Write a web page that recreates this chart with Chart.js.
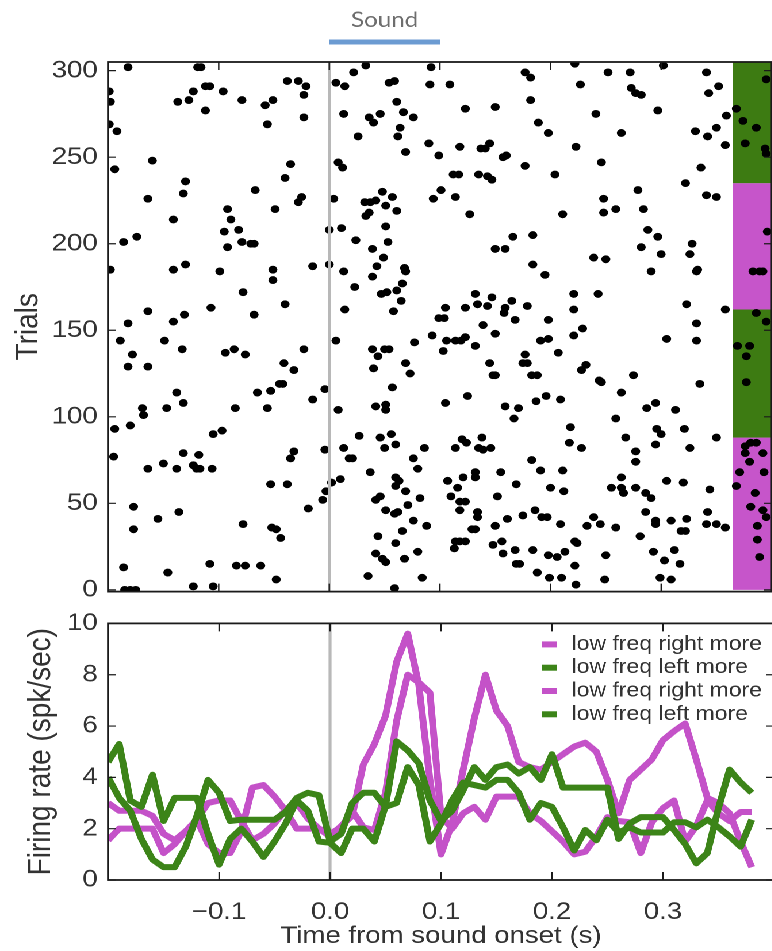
<!DOCTYPE html>
<html>
<head>
<meta charset="utf-8">
<script src="https://cdn.jsdelivr.net/npm/chart.js@4.4.1/dist/chart.umd.min.js"></script>
<style>
  html, body { margin: 0; padding: 0; background: #fff; overflow: hidden; width: 772px; height: 951px; }
  /* the source figure is stretched sideways, so the whole page is too */
  #stretch { position: absolute; left: 0; top: 0; width: 675px; height: 951px; transform: scaleX(1.15); transform-origin: 0 0; }
  #rasterBox { position: absolute; left: 0; top: 0; }
  #rateBox { position: absolute; left: 0; top: 600px; }
</style>
</head>
<body>
<div id="stretch">
  <div id="rasterBox"><canvas id="raster" width="675" height="615"></canvas></div>
  <div id="rateBox"><canvas id="rate" width="675" height="351"></canvas></div>
</div>
<script>
/* -------------------- DATA -------------------- */
// raster: one dot per spike (time from sound onset in s, trial number)
const spikeTimes = [
  -0.182,-0.119,-0.116,-0.112,-0.108,-0.123,-0.127,-0.137,-0.096,-0.079,
  -0.112,-0.058,-0.051,-0.038,-0.028,-0.021,-0.023,-0.023,-0.056,-0.198,
  -0.199,-0.199,-0.192,0.006,0.014,0.022,0.033,0.054,0.059,0.061,
  0.067,0.076,0.064,0.062,0.069,0.013,0.036,0.040,0.046,0.026,
  -0.160,-0.194,-0.130,-0.132,-0.164,-0.141,-0.174,-0.186,-0.092,-0.089,
  -0.095,-0.082,-0.079,-0.071,-0.068,-0.092,-0.067,-0.035,-0.040,-0.025,
  -0.028,-0.049,0.004,0.008,0.012,0.011,0.000,0.000,-0.015,-0.051,
  -0.051,-0.078,-0.040,-0.068,-0.107,-0.099,-0.130,-0.141,-0.198,-0.164,
  -0.141,-0.131,-0.182,0.032,0.037,0.042,0.048,0.051,0.057,0.061,
  0.033,0.036,0.051,0.053,0.024,0.039,0.049,0.043,0.068,0.069,
  0.039,0.013,
  0.023,0.047,0.052,0.061,0.066,0.065,0.058,0.014,0.006,-0.023,
  0.039,0.044,0.050,0.054,0.069,0.073,0.040,0.057,0.077,0.093,
  0.103,0.106,0.114,0.119,0.123,0.132,0.099,0.104,0.105,0.123,
  0.132,0.134,0.143,0.147,0.139,0.150,0.159,0.158,0.165,0.168,
  0.179,0.198,0.191,0.198,0.221,0.221,0.243,0.221,0.229,0.207,
  0.177,0.175,0.179,0.145,0.148,0.150,0.183,0.188,0.228,0.232,
  0.244,0.246,0.275,0.264,0.323,0.332,0.332,0.305,0.335,0.358,
  -0.015,-0.004,0.008,0.042,0.051,0.051,0.105,0.125,0.159,0.171,
  0.167,0.187,0.196,0.209,0.259,0.287,0.295,0.313,0.296,0.300,
  0.321,0.295,0.326,0.350,0.268,0.277,0.277,0.218,0.217,0.228,
  0.027,0.046,0.056,0.050,0.060,0.086,0.013,-0.004,0.018,0.021,
  0.076,0.080,0.037,0.114,0.120,0.124,0.138,0.135,0.139,0.146,
  0.183,0.191,0.211,0.155,0.169,0.200,0.212,0.152,0.010,0.002,
  -0.003,-0.006,-0.019,0.060,0.063,0.060,0.069,0.082,0.046,0.042,
  0.051,0.059,0.062,0.071,0.076,0.088,0.044,0.066,0.060,0.042,
  0.048,0.051,0.068,0.080,0.035,0.084,0.059,0.107,0.116,0.121,
  0.132,0.132,0.110,0.118,0.123,0.118,0.134,0.134,0.129,0.132,
  0.114,0.118,0.123,0.113,0.148,0.156,0.157,0.168,0.169,0.172,
  0.184,0.150,0.161,0.175,0.186,0.192,0.197,0.209,0.198,0.206,
  0.213,0.222,0.224,0.222,0.188,0.199,0.210,0.223,0.233,0.239,
  0.245,0.259,0.250,0.249,0.255,0.264,0.266,0.264,0.277,0.286,
  0.291,0.286,0.281,0.295,0.295,0.309,0.305,0.320,0.323,0.318,
  0.322,0.344,0.342,0.341,0.350,0.358,0.312,0.293,0.303,0.317,
  0.299,0.309,
  0.092,0.091,0.109,0.177,0.182,0.182,0.222,0.227,0.252,0.272,
  0.302,0.273,0.277,0.282,0.341,0.352,0.343,0.123,0.150,0.241,
  0.297,0.359,0.189,0.198,0.264,0.331,0.342,0.350,0.358,0.090,
  0.099,0.118,0.137,0.141,0.145,0.157,0.160,0.177,0.223,0.246,
  0.336,0.112,0.117,0.135,0.143,0.147,0.204,0.322,0.101,0.094,
  0.114,0.279,0.341,0.350,0.248,0.248,0.259,0.284,0.127,0.211,
  0.288,0.297,0.166,0.184,0.150,0.159,0.282,0.300,0.328,0.326,
  0.239,0.250,0.184,0.195,0.291,0.333,0.332,
  -0.189,-0.149,-0.133,-0.178,-0.182,-0.164,-0.094,-0.086,-0.076,-0.041,
  -0.032,-0.045,-0.042,-0.053,-0.065,-0.138,-0.147,-0.132,-0.169,-0.168,
  -0.085,-0.056,-0.194,-0.180,-0.105,-0.097,-0.195,-0.132,-0.118,-0.164,
  -0.150,-0.138,-0.123,-0.120,-0.117,-0.106,-0.032,-0.035,-0.053,-0.038,
  -0.177,-0.136,-0.155,-0.177,-0.078,-0.052,-0.048,-0.044,-0.186,-0.146,
  -0.108,-0.084,-0.076,-0.062,-0.048,-0.123,-0.105,-0.185,-0.180,-0.175,
  0.395,0.368,0.374,0.386,0.376,0.394,0.395,0.396,0.383,0.389,
  0.392,0.386,0.395,0.369,0.380,0.377,0.377,0.376,0.381,0.386,
  0.376,0.392,0.380,0.371,0.393,0.385,0.381,0.392,0.395,0.387,
  0.387,0.389,0.368
];
const spikeTrials = [
  302,302,302,291,291,288,283,282,288,283,
  277,280,283,294,294,291,286,273,269,282,
  288,269,265,293,291,299,303,293,294,282,
  276,273,267,262,253,275,273,270,275,262,
  248,243,236,229,226,214,204,201,220,214,
  207,208,201,200,200,198,231,246,238,227,
  224,220,226,247,244,209,208,188,187,185,
  179,172,165,159,163,184,188,185,185,161,
  155,159,154,224,224,225,230,222,227,219,
  216,218,210,201,202,197,192,187,186,184,
  181,184,
  175,171,172,173,177,167,161,162,144,139,
  139,135,139,139,131,125,128,117,143,147,
  138,144,144,144,146,141,157,157,163,163,
  171,165,164,169,153,148,163,160,167,156,
  164,156,144,145,171,162,171,147,151,137,
  136,131,131,131,124,124,124,124,127,130,
  121,120,124,114,165,154,144,145,119,162,
  110,116,104,106,107,104,108,112,106,105,
  99,109,112,110,99,105,108,104,93,90,
  93,84,82,88,88,80,74,94,85,82,
  89,88,90,82,84,82,82,81,76,76,
  76,70,68,82,87,85,88,82,81,82,
  75,69,69,68,61,59,57,54,64,62,
  57,52,47,65,63,60,57,53,54,52,
  46,44,45,49,40,37,31,34,27,21,
  18,16,18,22,8,7,1,63,59,65,
  65,68,54,51,51,46,45,42,35,35,
  28,28,28,24,26,28,21,23,15,15,
  23,37,41,43,46,42,42,38,20,19,
  22,28,27,14,10,7,7,3,37,42,
  38,36,20,6,59,59,56,65,59,56,
  53,45,31,40,38,40,63,62,41,34,
  34,58,45,38,38,36,23,22,17,15,
  7,6,
  302,292,292,299,296,283,304,292,299,299,
  303,290,287,286,299,291,287,278,279,275,
  277,274,270,264,264,265,262,267,257,258,
  251,256,255,255,258,250,251,245,256,247,
  244,240,240,240,239,237,240,235,231,226,
  227,231,228,227,226,218,220,220,217,217,
  208,204,204,205,197,197,198,194,200,194,
  192,191,188,182,184,185,184,
  144,144,139,136,129,129,137,139,136,131,
  127,119,119,115,114,114,105,108,105,101,
  105,105,93,95,90,92,77,79,78,70,
  73,70,72,70,70,70,80,76,61,61,
  48,45,41,35,38,36,35,30,13,10,
  15,14,14,14,6,2,2,0,0,0,
  295,278,271,267,258,255,252,207,184,184,
  184,160,155,141,141,135,120,83,85,85,
  79,79,74,68,68,56,48,46,42,37,
  29,19,60
];

// trial groups shown in the side strip (trial boundaries)
const groupEdges = [0, 88, 162, 235, 305];
const groupKinds = ['right', 'left', 'right', 'left'];
const stripStart = 0.365;
const soundOnset = 0.0;
const soundOffset = 0.1;

// PSTH bins (s) and firing rates (spk/sec)
const timeBins = [
  -0.20,-0.19,-0.18,-0.17,-0.16,-0.15,-0.14,-0.13,-0.12,-0.11,
  -0.10,-0.09,-0.08,-0.07,-0.06,-0.05,-0.04,-0.03,-0.02,-0.01,
  0.00,0.01,0.02,0.03,0.04,0.05,0.06,0.07,0.08,0.09,
  0.10,0.11,0.12,0.13,0.14,0.15,0.16,0.17,0.18,0.19,
  0.20,0.21,0.22,0.23,0.24,0.25,0.26,0.27,0.28,0.29,
  0.30,0.31,0.32,0.33,0.34,0.35,0.36,0.37,0.38
];
const rightMoreA = [
  3.0,2.7,2.7,2.7,2.5,1.8,1.55,1.9,2.35,3.0,
  3.1,3.1,2.3,1.55,1.8,2.2,2.75,3.0,2.4,2.0,
  1.7,2.1,2.5,4.5,5.3,6.4,8.5,9.6,7.6,3.9,
  1.0,2.2,4.3,6.3,8.0,6.6,6.0,4.6,4.4,4.3,
  4.6,4.9,5.2,5.35,5.0,3.9,2.6,3.9,4.3,4.7,
  5.45,5.8,6.1,4.7,3.2,3.0,2.6,1.5,0.5
];
const leftMoreA = [
  4.6,5.3,3.1,2.85,4.1,2.3,3.2,3.2,3.2,1.8,
  0.6,1.6,2.0,1.5,0.9,1.5,2.2,3.1,2.7,1.5,
  1.45,1.05,2.0,2.0,1.5,2.9,5.4,5.05,4.55,3.1,
  2.3,2.7,3.5,4.4,3.9,4.4,4.5,4.15,4.4,3.9,
  4.9,3.6,3.6,3.6,3.6,3.6,1.6,2.2,2.45,2.45,
  2.45,1.95,1.4,0.65,1.05,2.8,4.3,3.8,3.4
];
const rightMoreB = [
  1.55,2.0,2.0,2.0,2.0,1.05,1.4,1.9,2.35,1.4,
  1.05,1.05,1.9,3.6,3.7,3.25,2.7,2.0,2.0,2.0,
  1.8,2.05,2.7,2.05,1.95,3.4,6.2,8.0,7.7,7.3,
  2.5,2.0,2.6,2.85,2.35,3.25,3.25,3.25,2.6,2.3,
  1.9,1.5,1.0,1.1,1.7,2.45,2.3,2.25,1.05,2.25,
  2.8,3.1,1.5,2.1,3.1,2.6,2.3,2.65,2.65
];
const leftMoreB = [
  4.0,3.2,2.7,1.6,0.8,0.5,0.5,1.3,2.5,3.9,
  3.4,2.3,2.35,2.35,2.35,2.35,2.65,3.2,3.4,3.3,
  1.5,1.8,3.0,3.4,3.4,2.85,3.0,4.4,3.7,1.5,
  2.2,3.1,3.8,3.7,3.6,3.9,3.9,3.4,2.35,3.0,
  2.85,2.05,1.15,1.95,1.55,2.35,1.85,2.05,1.85,1.85,
  1.85,2.25,2.25,2.05,2.35,2.05,1.7,1.3,2.35
];

const trialTicks = [0, 50, 100, 150, 200, 250, 300];
const rateTicks = [0, 2, 4, 6, 8, 10];
const timeTicks = [-0.1, 0.0, 0.1, 0.2, 0.3];
const timeTickLabels = ['\u22120.1', '0.0', '0.1', '0.2', '0.3'];

/* -------------------- STYLE -------------------- */
const FONT = "'Liberation Sans', Arial, Helvetica, sans-serif";
const INK = '#333';
const MAGENTA = '#c452c8';
const GREEN = '#3c8418';
const kindColor = { right: '#c655ca', left: '#3d7b12' };

/* -------------------- HELPERS -------------------- */
function drawZeroLine(chart) {
    const { ctx, chartArea: a, scales: { x } } = chart;
    const px = x.getPixelForValue(0);
    ctx.save();
    ctx.strokeStyle = '#b8b8b8';
    ctx.lineWidth = 2.6;
    ctx.beginPath();
    ctx.moveTo(px, a.top);
    ctx.lineTo(px, a.bottom);
    ctx.stroke();
    ctx.restore();
}

// inward ticks on all four sides + box, like the old matplotlib look
function drawFrame(chart, xt, yt) {
    const { ctx, chartArea: a, scales: { x, y } } = chart;
    ctx.save();
    ctx.strokeStyle = '#1a1a1a';
    ctx.lineWidth = 1.2;
    ctx.beginPath();
    xt.forEach(v => {
        const p = x.getPixelForValue(v);
        ctx.moveTo(p, a.top); ctx.lineTo(p, a.top + 8);
        ctx.moveTo(p, a.bottom); ctx.lineTo(p, a.bottom - 8);
    });
    yt.forEach(v => {
        const p = y.getPixelForValue(v);
        ctx.moveTo(a.left, p); ctx.lineTo(a.left + 7, p);
        ctx.moveTo(a.right, p); ctx.lineTo(a.right - 7, p);
    });
    ctx.stroke();
    ctx.lineWidth = 1.8;
    ctx.strokeRect(a.left, a.top, a.right - a.left, a.bottom - a.top);
    ctx.restore();
}

const rasterDecor = {
    id: 'rasterDecor',
    beforeDatasetsDraw(chart) {
        const { ctx, chartArea: a, scales: { x, y } } = chart;
        const x0 = x.getPixelForValue(stripStart);
        ctx.save();
        groupKinds.forEach((k, i) => {
            const yTop = y.getPixelForValue(groupEdges[i + 1]);
            const yBot = y.getPixelForValue(groupEdges[i]);
            ctx.fillStyle = kindColor[k];
            ctx.fillRect(x0, Math.max(yTop, a.top), a.right - x0, Math.min(yBot, a.bottom) - Math.max(yTop, a.top));
        });
        ctx.restore();
    },
    afterDatasetsDraw(chart) {
        drawZeroLine(chart);
        drawFrame(chart, timeTicks, trialTicks);
    },
    afterDraw(chart) {
        const { ctx, scales: { x } } = chart;
        const x0 = x.getPixelForValue(soundOnset);
        const x1 = x.getPixelForValue(soundOffset);
        ctx.save();
        ctx.strokeStyle = '#6c9bd2';
        ctx.lineWidth = 5;
        ctx.beginPath();
        ctx.moveTo(x0, 42);
        ctx.lineTo(x1, 42);
        ctx.stroke();
        ctx.fillStyle = '#6e6e6e';
        ctx.font = "21px Lato, 'Open Sans', sans-serif";
        ctx.textAlign = 'center';
        ctx.textBaseline = 'middle';
        ctx.fillText('Sound', (x0 + x1) / 2, 20);
        ctx.restore();
    }
};

const rateDecor = {
    id: 'rateDecor',
    beforeDatasetsDraw(chart) {
        drawZeroLine(chart);
    },
    afterDatasetsDraw(chart) {
        drawFrame(chart, timeTicks, rateTicks);
        // legend, upper right inside the axes
        const { ctx, chartArea: a } = chart;
        ctx.save();
        ctx.font = '20px ' + FONT;
        ctx.textBaseline = 'middle';
        ctx.textAlign = 'left';
        chart.data.datasets.forEach((ds, k) => {
            const yy = a.top + 21 + k * 23.3;
            ctx.strokeStyle = ds.borderColor;
            ctx.lineWidth = 6;
            ctx.beginPath();
            ctx.moveTo(a.right - 202, yy);
            ctx.lineTo(a.right - 189, yy);
            ctx.stroke();
            ctx.fillStyle = INK;
            ctx.fillText(ds.label, a.right - 176, yy);
        });
        ctx.restore();
    }
};

function rateSeries(values, label, color, order) {
    return {
        label,
        data: timeBins.map((t, i) => ({ x: t, y: values[i] })),
        borderColor: color,
        backgroundColor: color,
        borderWidth: 6,
        borderJoinStyle: 'round',
        pointRadius: 0,
        tension: 0,
        fill: false,
        order
    };
}

/* -------------------- RASTER -------------------- */
new Chart(document.getElementById('raster'), {
    type: 'scatter',
    data: {
        datasets: [{
            data: spikeTimes.map((t, i) => ({ x: t, y: spikeTrials[i] })),
            pointRadius: 3.9,
            pointHoverRadius: 3.9,
            pointBackgroundColor: '#000',
            pointBorderWidth: 0,
            borderWidth: 0
        }]
    },
    options: {
        responsive: false,
        animation: false,
        devicePixelRatio: 2,
        events: [],
        layout: { padding: { top: 62, right: 2, bottom: 18, left: 0 } },
        plugins: { legend: { display: false }, tooltip: { enabled: false } },
        scales: {
            x: { type: 'linear', min: -0.2, max: 0.4, display: false },
            y: {
                type: 'linear', min: -1, max: 305,
                afterFit: s => { s.width = 94; },
                afterBuildTicks: s => { s.ticks = trialTicks.map(v => ({ value: v })); },
                grid: { display: false, drawTicks: false },
                border: { display: false },
                ticks: { padding: 9, color: INK, font: { family: FONT, size: 24 } },
                title: { display: true, text: 'Trials', color: INK, font: { family: FONT, size: 28 }, padding: { top: 8, bottom: 0 } }
            }
        }
    },
    plugins: [rasterDecor]
});

/* -------------------- FIRING RATE -------------------- */
new Chart(document.getElementById('rate'), {
    type: 'line',
    data: {
        datasets: [
            rateSeries(rightMoreA, 'low freq right more', MAGENTA, 2),
            rateSeries(leftMoreA, 'low freq left more', GREEN, 1),
            rateSeries(rightMoreB, 'low freq right more', MAGENTA, 2),
            rateSeries(leftMoreB, 'low freq left more', GREEN, 1)
        ]
    },
    options: {
        responsive: false,
        animation: false,
        devicePixelRatio: 2,
        events: [],
        layout: { padding: { top: 23, right: 2, bottom: 0, left: 0 } },
        plugins: { legend: { display: false }, tooltip: { enabled: false } },
        scales: {
            x: {
                type: 'linear', min: -0.2, max: 0.4,
                afterFit: s => { s.height = 71; },
                afterBuildTicks: s => { s.ticks = timeTicks.map(v => ({ value: v })); },
                grid: { display: false, drawTicks: false },
                border: { display: false },
                ticks: { padding: 18, autoSkip: false, maxRotation: 0, color: INK, font: { family: FONT, size: 24 },
                         callback: (v, i) => timeTickLabels[i] },
                title: { display: true, text: 'Time from sound onset (s)', color: INK, font: { family: FONT, size: 24 }, padding: { top: 0, bottom: 0 } }
            },
            y: {
                type: 'linear', min: 0, max: 10,
                afterFit: s => { s.width = 94; },
                afterBuildTicks: s => { s.ticks = rateTicks.map(v => ({ value: v })); },
                grid: { display: false, drawTicks: false },
                border: { display: false },
                ticks: { padding: 9, color: INK, font: { family: FONT, size: 24 } },
                title: { display: true, text: 'Firing rate (spk/sec)', color: INK, font: { family: FONT, size: 28 }, padding: { top: 19, bottom: 0 } }
            }
        }
    },
    plugins: [rateDecor]
});
</script>
</body>
</html>
